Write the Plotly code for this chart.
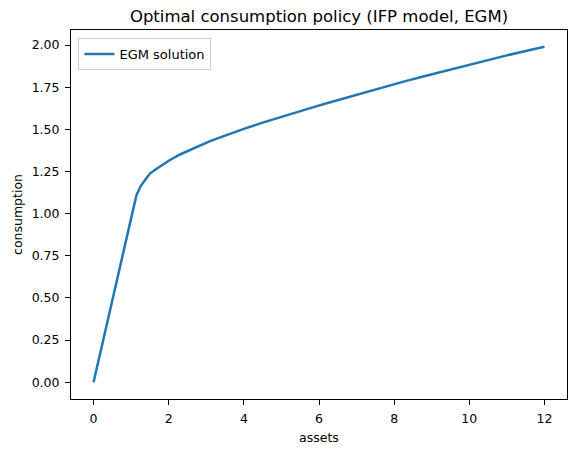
import plotly.graph_objects as go

# policy
assets = [0.0, 1.14, 1.25, 1.38, 1.5, 1.65, 1.85, 2.0, 2.3, 2.75, 3.1, 3.3, 3.6, 3.8,
          4.0, 4.5, 4.9, 5.4, 5.9, 6.3, 6.8, 7.3, 7.8, 8.3, 8.8, 9.2, 9.7, 10.1,
          10.6, 11.0, 11.5, 12.0]
consumption = [0.0, 1.108, 1.162, 1.205, 1.238, 1.262, 1.293, 1.314, 1.351, 1.398, 1.430,
               1.447, 1.472, 1.488, 1.503, 1.540, 1.568, 1.602, 1.635, 1.661, 1.693,
               1.725, 1.756, 1.786, 1.815, 1.838, 1.867, 1.889, 1.917, 1.939, 1.965,
               1.99]

x_ticks = [0, 2, 4, 6, 8, 10, 12]
y_ticks = [0.0, 0.25, 0.5, 0.75, 1.0, 1.25, 1.5, 1.75, 2.0]

font = "DejaVu Sans"

fig = go.Figure()
fig.add_trace(go.Scatter(x=assets, y=consumption, mode="lines", name="EGM solution",
                         line=dict(color="#1f77b4", width=2.5)))

axis_style = dict(showline=True, linecolor="black", linewidth=1, mirror=True,
                  ticks="outside", ticklen=5, tickcolor="black", showgrid=False,
                  zeroline=False, ticklabelstandoff=3,
                  tickfont=dict(family=font, size=12.5, color="black"))

fig.update_xaxes(range=[-0.6, 12.6], tickvals=x_ticks,
                 title=dict(text="assets", font=dict(family=font, size=12.5, color="black"), standoff=8),
                 **axis_style)
fig.update_yaxes(range=[-0.0995, 2.0895], tickvals=y_ticks, tickformat=".2f",
                 title=dict(text="consumption", font=dict(family=font, size=12.5, color="black"), standoff=6),
                 **axis_style)

# page body has an 8px margin, so the figure is a bit smaller than the window
fig.update_layout(
    width=568, height=445,
    margin=dict(l=63, r=9, t=22, b=54),
    plot_bgcolor="white", paper_bgcolor="white",
    title=dict(text="Optimal consumption policy (IFP model, EGM)", x=0.5, xref="paper",
               xanchor="center", y=0.982, yanchor="middle",
               font=dict(family=font, size=16.5, color="black")),
    legend=dict(x=0.015, y=0.978, xanchor="left", yanchor="top", bgcolor="rgba(255,255,255,0.8)",
                bordercolor="#cccccc", borderwidth=1,
                font=dict(family=font, size=13, color="black")),
    showlegend=True,
)

fig.write_html("out.html")
